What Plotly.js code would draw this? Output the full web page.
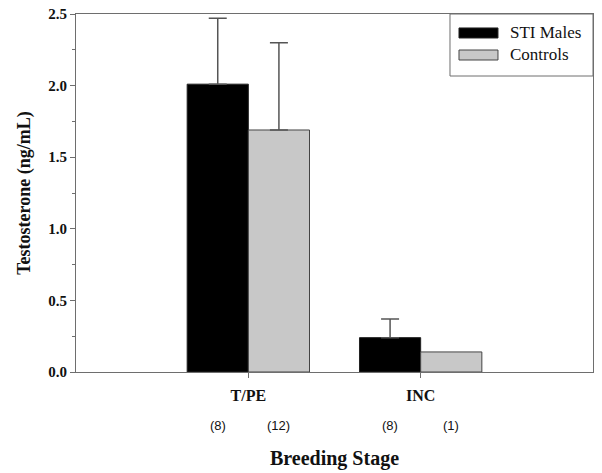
<!DOCTYPE html>
<html>
<head>
<meta charset="utf-8">
<script src="https://cdn.plot.ly/plotly-3.0.1.min.js"></script>
<style>html,body{margin:0;padding:0;background:#fff;}#chart{width:602px;height:473px;}</style>
</head>
<body>
<div id="chart"></div>
<script>
var stages = ["T/PE", "INC"];
var stiValues = [2.01, 0.24];
var stiErr = [0.46, 0.13];
var ctrlValues = [1.69, 0.14];
var ctrlErr = [0.61, NaN];
var stiN = ["(8)", "(8)"];
var ctrlN = ["(12)", "(1)"];
var seriesNames = ["STI Males", "Controls"];

var serif = "Liberation Serif, Times New Roman, serif";
var sans = "Liberation Sans, Arial, sans-serif";
var frame = "#6e6e6e";

var traces = [
  {type: "bar", name: seriesNames[0], x: stages, y: stiValues,
   marker: {color: "#000000", line: {color: "#222", width: 1}},
   error_y: {type: "data", array: stiErr, arrayminus: [0, 0], symmetric: false, color: "#555", thickness: 1.5, width: 9}},
  {type: "bar", name: seriesNames[1], x: stages, y: ctrlValues,
   marker: {color: "#c8c8c8", line: {color: "#444", width: 1}},
   error_y: {type: "data", array: ctrlErr, arrayminus: [0, NaN], symmetric: false, color: "#555", thickness: 1.5, width: 9}}
];

var bargap = 0.29;
var half = (1 - bargap) / 4;
var annotations = [];
stages.forEach(function (s, i) {
  annotations.push({x: i - half, y: 0, xref: "x", yref: "paper", yshift: -63, text: stiN[i], showarrow: false, font: {family: sans, size: 13, color: "#111"}});
  annotations.push({x: i + half, y: 0, xref: "x", yref: "paper", yshift: -63, text: ctrlN[i], showarrow: false, font: {family: sans, size: 13, color: "#111"}});
});

// manual legend
var lgX0 = 0.7234, lgY0 = 0.8268;
var shapes = [
  {type: "rect", xref: "paper", yref: "paper", x0: lgX0, x1: 1, y0: lgY0, y1: 1, fillcolor: "#fff", line: {color: frame, width: 1}, layer: "above"},
  {type: "rect", xref: "paper", yref: "paper", x0: 0.7408, x1: 0.8162, y0: 0.933, y1: 0.961, fillcolor: "#000", line: {color: "#222", width: 1}, layer: "above"},
  {type: "rect", xref: "paper", yref: "paper", x0: 0.7408, x1: 0.8162, y0: 0.8715, y1: 0.8994, fillcolor: "#c8c8c8", line: {color: "#444", width: 1}, layer: "above"}
];
annotations.push({x: 0.8355, y: 0.947, xref: "paper", yref: "paper", xanchor: "left", yanchor: "middle", text: seriesNames[0], showarrow: false, font: {family: serif, size: 17, color: "#111"}});
annotations.push({x: 0.8355, y: 0.8855, xref: "paper", yref: "paper", xanchor: "left", yanchor: "middle", text: seriesNames[1], showarrow: false, font: {family: serif, size: 17, color: "#111"}});

var layout = {
  width: 602, height: 473,
  margin: {l: 76, r: 9, t: 14, b: 101},
  paper_bgcolor: "#fff", plot_bgcolor: "#fff",
  barmode: "group", bargap: bargap, bargroupgap: 0,
  showlegend: false,
  xaxis: {
    range: [-1, 2], type: "category",
    showline: true, mirror: true, linecolor: frame, linewidth: 1,
    ticks: "outside", ticklen: 5, tickcolor: frame,
    showgrid: false, zeroline: false,
    tickfont: {family: serif, size: 16, weight: 700, color: "#111"},
    ticklabelstandoff: 4,
    title: {text: "Breeding Stage", font: {family: serif, size: 20, weight: 700, color: "#111"}, standoff: 47}
  },
  yaxis: {
    range: [0, 2.5], dtick: 0.5, tickformat: ".1f",
    showline: true, mirror: true, linecolor: frame, linewidth: 1,
    ticks: "outside", ticklen: 5, tickcolor: frame,
    minor: {dtick: 0.25, ticks: "outside", ticklen: 3, tickcolor: frame},
    showgrid: false, zeroline: false,
    tickfont: {family: serif, size: 15, weight: 700, color: "#111"},
    title: {text: "Testosterone (ng/mL)", font: {family: serif, size: 18, weight: 700, color: "#111"}, standoff: 12}
  },
  shapes: shapes,
  annotations: annotations
};

Plotly.newPlot("chart", traces, layout, {displayModeBar: false, staticPlot: true});
</script>
</body>
</html>
